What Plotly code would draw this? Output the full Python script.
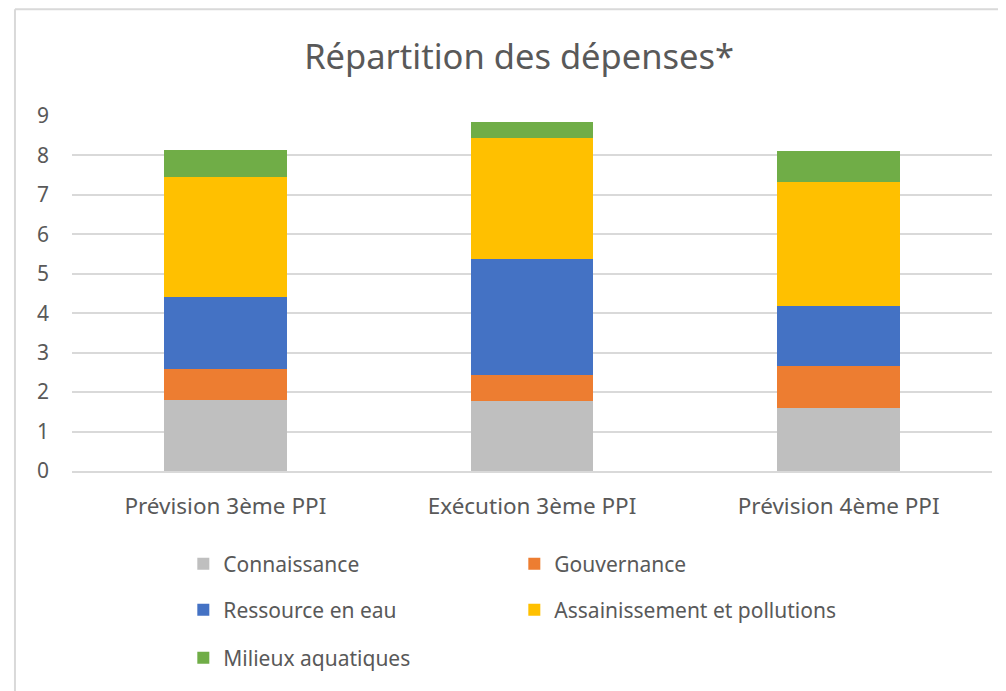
import plotly.graph_objects as go

# -------- Données --------
categories = ["Prévision 3ème PPI", "Exécution 3ème PPI", "Prévision 4ème PPI"]

connaissance   = [1.81, 1.77, 1.60]
gouvernance    = [0.78, 0.67, 1.05]
ressource_eau  = [1.81, 2.94, 1.54]
assainissement = [3.06, 3.06, 3.13]
milieux        = [0.69, 0.42, 0.80]

y_ticks = [0, 1, 2, 3, 4, 5, 6, 7, 8, 9]

# -------- Styles --------
FONT = "Noto Sans"
TXT = "#595959"
GRID = "#d9d9d9"

series = [
    ("Connaissance", connaissance, "#bfbfbf", "legend"),
    ("Gouvernance", gouvernance, "#ed7d31", "legend"),
    ("Ressource en eau", ressource_eau, "#4472c4", "legend2"),
    ("Assainissement et pollutions", assainissement, "#ffc000", "legend2"),
    ("Milieux aquatiques", milieux, "#70ad47", "legend3"),
]

fig = go.Figure()
for name, vals, col, leg in series:
    fig.add_trace(go.Bar(
        x=categories, y=vals, name=name,
        marker=dict(color=col, line=dict(width=0)),
        legend=leg,
    ))

# une légende par ligne (2 colonnes)
def _leg(y):
    return dict(
        orientation="h", x=0.121, xanchor="left", y=y, yanchor="middle",
        entrywidth=286, entrywidthmode="pixels",
        font=dict(family=FONT, size=21, color=TXT),
        bgcolor="rgba(0,0,0,0)", traceorder="normal",
    )

# la page ajoute ~8 px de marge (body) -> marges décalées
fig.update_layout(
    width=1006, height=691,
    barmode="stack", bargap=0.6,
    margin=dict(l=64, r=22, t=108, b=228),
    paper_bgcolor="white", plot_bgcolor="white",
    font=dict(family=FONT, color=TXT),
    title=dict(
        text="Répartition des dépenses*",
        x=0.486, xanchor="center", xref="paper",
        y=1 - 49 / 691, yanchor="middle", yref="container",
        font=dict(family=FONT, size=34.5, color=TXT),
    ),
    legend=_leg(-0.262),
    legend2=_leg(-0.392),
    legend3=_leg(-0.527),
    showlegend=True,
)

fig.update_yaxes(
    range=[0, 9], tickvals=y_ticks, showgrid=True, gridcolor=GRID, gridwidth=1.5,
    zeroline=False, showline=False, ticks="",
    tickfont=dict(family=FONT, size=21, color=TXT), ticklabelstandoff=22,
)
fig.update_xaxes(
    showgrid=False, showline=True, linecolor=GRID, linewidth=1.5, ticks="",
    tickfont=dict(family=FONT, size=22.5, color=TXT), ticklabelstandoff=14,
)

# cadre gris (haut + gauche)
fig.add_shape(type="line", xref="paper", yref="paper", x0=-0.062, x1=1.03, y0=1.301, y1=1.301,
              line=dict(color="#d9d9d9", width=2))
fig.add_shape(type="line", xref="paper", yref="paper", x0=-0.062, x1=-0.062, y0=1.301, y1=-0.7,
              line=dict(color="#d9d9d9", width=2))

fig.write_html("out.html")
